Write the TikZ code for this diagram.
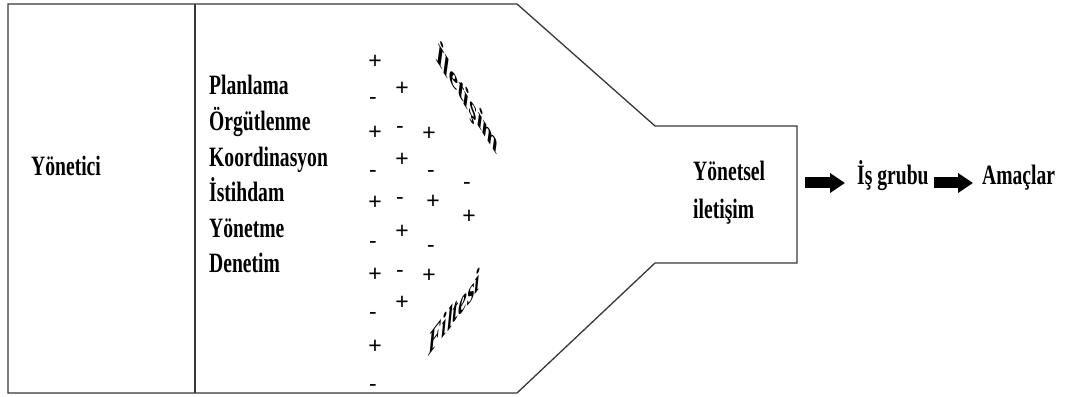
\documentclass[tikz,border=0pt]{standalone}
\usepackage{fontspec}
\setmainfont{Liberation Serif}
\newfontfamily\narrowfont{Liberation Serif}[FakeStretch=0.7]
\newfontfamily\signfont{Liberation Sans}
\usetikzlibrary{arrows.meta}
\definecolor{lnclr}{RGB}{55,55,55}

\begin{document}
\begin{tikzpicture}[x=1pt,y=1pt,
    txt/.style={font=\narrowfont\bfseries\fontsize{28}{34}\selectfont,inner sep=0pt,anchor=base west},
    sgn/.style={font=\signfont\fontsize{23}{26}\selectfont,inner sep=0pt},
    fat/.style={line width=11pt,-{Triangle[length=15pt,width=19pt]}}]
  \useasboundingbox (0,0) rectangle (1067,396);
  % funnel outline
  \draw[line width=1.3pt,lnclr] (8,392) -- (517,392) -- (655,270) -- (797,270) -- (797,133)
    -- (655,133) -- (517,3) -- (8,3) -- cycle;
  \draw[line width=1.3pt,lnclr] (195,3) -- (195,392);
  \coordinate (neck) at (797,213);

  \node[txt] (yon) at (31,220) {Yönetici};
  \foreach \t [count=\i from 0] in {Planlama,Örgütlenme,Koordinasyon,İstihdam,Yönetme,Denetim}
    \node[txt] (f\i) at (209,301-35.6*\i) {\t};

  % filter signs
  \foreach \x/\y [count=\i] in {375/334,375/263,375/193,375/121,375/49,402/307,402/236,402/164,
      402/93,429/262,433/194,429/120,469/179}
    \node[sgn] (plus\i) at (\x,\y) {+};
  \foreach \x/\y [count=\i] in {373/297,373/224,373/153,373/82,373/10,400/268,400/197,400/124,
      431/224,431/149,467/212}
    \node[sgn,yshift=-2pt] (minus\i) at (\x,\y) {-};
  \node[txt,font=\narrowfont\bfseries\fontsize{31}{34}\selectfont,xscale=0.92,yslant=-1.43] (ilt) at (436,336) {\itshape İletişim};
  \node[txt,font=\narrowfont\bfseries\fontsize{31}{34}\selectfont,xscale=0.92,yslant=1.2] (flt) at (428,39) {\itshape Filtesi};

  \node[txt] (ys1) at (693,215) {Yönetsel};
  \node[txt] (ys2) at (693,177) {iletişim};
  \node[txt] (isg) at (857,211) {İş grubu};
  \node[txt] (amc) at (982,211) {Amaçlar};
  \coordinate (isgin) at (neck -| isg.west);
  \coordinate (isgout) at (neck -| isg.east);
  \coordinate (amcin) at (neck -| amc.west);
  \draw[fat] ([xshift=8pt]neck) -- ([xshift=-12pt]isgin);
  \draw[fat] ([xshift=5pt]isgout) -- ([xshift=-9pt]amcin);
\end{tikzpicture}
\end{document}
